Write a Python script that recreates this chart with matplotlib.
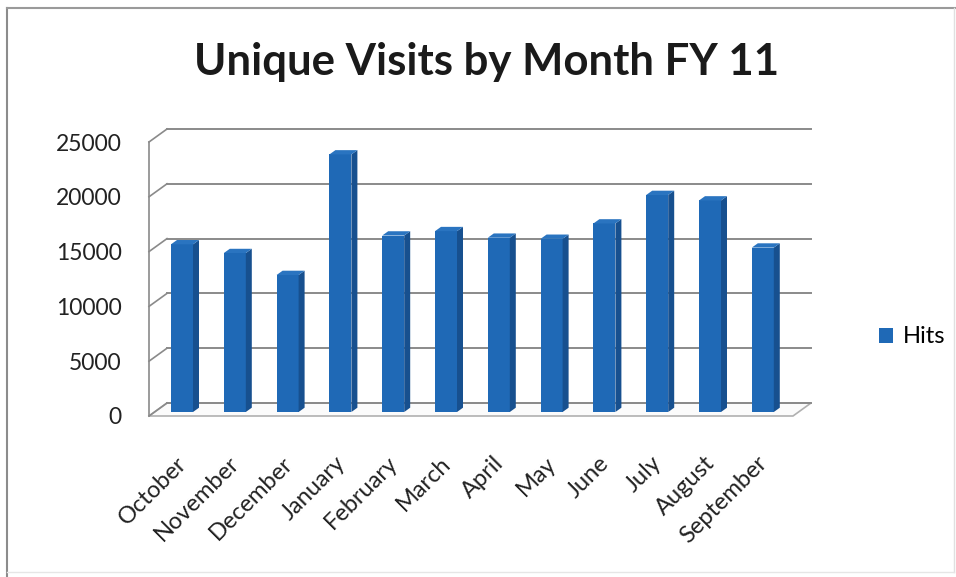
import matplotlib

matplotlib.use("Agg")
import matplotlib.pyplot as plt
from matplotlib.lines import Line2D
from matplotlib.patches import Patch, Polygon
from matplotlib.transforms import ScaledTranslation

MONTHS = ["October", "November", "December", "January", "February", "March",
          "April", "May", "June", "July", "August", "September"]
HITS = [15300, 14500, 12500, 23500, 16100, 16500,
        15900, 15800, 17200, 19800, 19300, 15000]
Y_TICKS = [0, 5000, 10000, 15000, 20000, 25000]

TITLE = "Unique Visits by Month FY 11"
SERIES = "Hits"

FRONT = "#1f69b6"
SIDE = "#17508f"
TOP = "#2a74c0"
GRID = "#8a8a8a"

# fake 3-D: category unit = 52.8 px, 1000 visits = 10.96 px
PX_X = 52.8
PX_Y = 0.01096
DEPTH_X = 18 / PX_X           # back wall offset
DEPTH_Y = 13 / PX_Y
WALL_L = (149 - 182) / PX_X
WALL_R = (793 - 182) / PX_X
BAR_W = 22 / PX_X
BAR_BASE = 4 / PX_Y
SIDE_X = 6 / PX_X
SIDE_Y = 4.3 / PX_Y

W, H = 956, 577
plt.rcParams["font.family"] = ["Lato", "DejaVu Sans"]

fig = plt.figure(figsize=(W / 100, H / 100), dpi=100)
ax_l, ax_r, ax_t, ax_b = 130, 830, 110, 440
ax = fig.add_axes([ax_l / W, 1 - ax_b / H, (ax_r - ax_l) / W, (ax_b - ax_t) / H])
ax.set_xlim((ax_l - 182) / PX_X, (ax_r - 182) / PX_X)
ax.set_ylim((416 - ax_b) / PX_Y, (416 - ax_t) / PX_Y)
for s in ax.spines.values():
    s.set_visible(False)

# floor
floor = Polygon([(WALL_L, 0), (WALL_R, 0), (WALL_R + DEPTH_X, DEPTH_Y),
                 (WALL_L + DEPTH_X, DEPTH_Y)], closed=True,
                facecolor="#fbfbfb", edgecolor="#b0b0b0", lw=1.2, zorder=1)
ax.add_patch(floor)

# back wall gridlines and side wall diagonals
for v in Y_TICKS:
    ax.plot([WALL_L + DEPTH_X, WALL_R + DEPTH_X], [v + DEPTH_Y, v + DEPTH_Y],
            color=GRID, lw=1.4, zorder=2)
    ax.plot([WALL_L, WALL_L + DEPTH_X], [v, v + DEPTH_Y], color=GRID, lw=1.2, zorder=2)
ax.plot([WALL_L, WALL_L], [0, Y_TICKS[-1]], color=GRID, lw=1.2, zorder=2)

# bars: front face via bar(), side and top as polygons
x = list(range(len(MONTHS)))
ax.bar(x, HITS, width=BAR_W, bottom=BAR_BASE, color=FRONT, lw=0, zorder=4)
for i, v in zip(x, HITS):
    xr = i + BAR_W / 2
    xl = i - BAR_W / 2
    top = BAR_BASE + v
    ax.add_patch(Polygon([(xr, BAR_BASE), (xr + SIDE_X, BAR_BASE + SIDE_Y),
                          (xr + SIDE_X, top + SIDE_Y), (xr, top)],
                         closed=True, facecolor=SIDE, lw=0, zorder=4))
    ax.add_patch(Polygon([(xl, top), (xr, top), (xr + SIDE_X, top + SIDE_Y),
                          (xl + SIDE_X, top + SIDE_Y)],
                         closed=True, facecolor=TOP, lw=0, zorder=4))

ax.set_yticks(Y_TICKS)
ax.set_yticklabels([str(t) for t in Y_TICKS], fontsize=16.5, color="#222222")
ax.set_xticks(x)
ax.set_xticklabels(MONTHS, rotation=45, ha="right", va="top",
                   rotation_mode="anchor", fontsize=17, color="#222222")
ax.tick_params(axis="y", length=0, pad=6)
ax.tick_params(axis="x", length=0, pad=9)
shift = ScaledTranslation(-6 / 100, 0, fig.dpi_scale_trans)
for lab in ax.get_xticklabels():
    lab.set_transform(lab.get_transform() + shift)

fig.text(487 / W, 1 - 62 / H, TITLE, ha="center", va="center",
         fontsize=31.5, fontweight="bold", color="#1a1a1a")

fig.legend(handles=[Patch(facecolor=FRONT, label=SERIES)], loc="center left",
           bbox_to_anchor=(858 / W, 1 - 337 / H), frameon=False, fontsize=17,
           handlelength=0.6, handleheight=0.6, handletextpad=0.4)

# chart area border
fig.add_artist(Line2D([7 / W, 7 / W], [0, 1 - 8 / H], color="#8c8c8c", lw=1.5))
fig.add_artist(Line2D([7 / W, 1], [1 - 8 / H, 1 - 8 / H], color="#9a9a9a", lw=1.5))
fig.add_artist(Line2D([954 / W, 954 / W], [5 / H, 1 - 8 / H], color="#e0e0e0", lw=1))
fig.add_artist(Line2D([7 / W, 954 / W], [5 / H, 5 / H], color="#e6e6e6", lw=1))

fig.savefig("out.png", dpi=100)
